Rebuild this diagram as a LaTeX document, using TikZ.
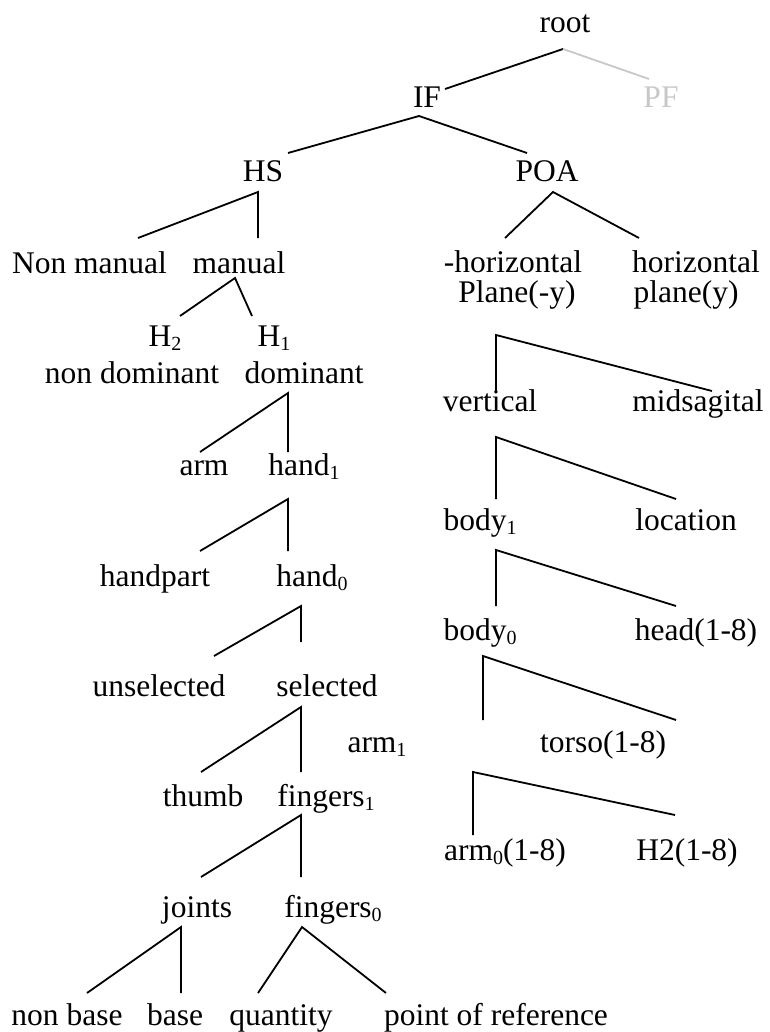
\documentclass[tikz,border=0pt]{standalone}
\usepackage{fontspec}
\setmainfont{Liberation Serif}
\newcommand\sbs[1]{\raisebox{-4pt}{\fontsize{20}{20}\selectfont #1}}
\definecolor{lightgrey}{RGB}{200,200,200}
\tikzset{
  lbl/.style={anchor=base,inner sep=0pt,outer sep=0pt,font=\fontsize{31.5}{36}\selectfont},
  faint/.style={lbl,text=lightgrey},
  edge/.style={line width=1.8pt,line join=miter,line cap=butt},
  faintedge/.style={edge,draw=lightgrey}
}
\begin{document}
\begin{tikzpicture}[x=1pt,y=-1pt]
\useasboundingbox[fill=white] (0,0) rectangle (769,1032);
% ---------- labels ----------
\node[lbl] (root) at (565,33) {root};
\node[lbl] (IF) at (427,108) {IF};
\node[faint] (PF) at (661,108) {PF};
\node[lbl] (HS) at (263,182) {HS};
\node[lbl] (POA) at (547,182) {POA};
\node[lbl] (nonmanual) at (89.5,273) {Non manual};
\node[lbl] (manual) at (239,273) {manual};
\node[lbl] (mhor) at (513,272) {-horizontal};
\node[lbl] (hor) at (696,272) {horizontal};
\node[lbl] (mplane) at (517,302) {Plane(-y)};
\node[lbl] (plane) at (686,302) {plane(y)};
\node[lbl] (H2) at (165,346) {H\sbs{2}};
\node[lbl] (H1) at (274,346) {H\sbs{1}};
\node[lbl] (nondom) at (132,383) {non dominant};
\node[lbl] (dom) at (304,383) {dominant};
\node[lbl] (vertical) at (490,411) {vertical};
\node[lbl] (midsag) at (698,411) {midsagital};
\node[lbl] (arm) at (204,475) {arm};
\node[lbl] (hand1) at (304,475) {hand\sbs{1}};
\node[lbl] (body1) at (480,530) {body\sbs{1}};
\node[lbl] (location) at (686,530) {location};
\node[lbl] (handpart) at (155,586) {handpart};
\node[lbl] (hand0) at (312,586) {hand\sbs{0}};
\node[lbl] (body0) at (480,640) {body\sbs{0}};
\node[lbl] (head) at (696,640) {head(1-8)};
\node[lbl] (unsel) at (159,696) {unselected};
\node[lbl] (sel) at (327,696) {selected};
\node[lbl] (arm1) at (377,752) {arm\sbs{1}};
\node[lbl] (torso) at (603,752) {torso(1-8)};
\node[lbl] (thumb) at (203,806) {thumb};
\node[lbl] (fingers1) at (326,806) {fingers\sbs{1}};
\node[lbl] (arm0) at (505,860) {arm\sbs{0}(1-8)};
\node[lbl] (H2b) at (687,860) {H2(1-8)};
\node[lbl] (joints) at (197,917) {joints};
\node[lbl] (fingers0) at (333,917) {fingers\sbs{0}};
\node[lbl] (nonbase) at (67,1025) {non base};
\node[lbl] (base) at (175,1025) {base};
\node[lbl] (quantity) at (281,1025) {quantity};
\node[lbl] (pref) at (496,1025) {point of reference};
% ---------- connector end points ----------
\coordinate (root-a) at (563,49);
\coordinate (IF-t) at (445,89);
\coordinate (PF-t) at (649,79);
\coordinate (IF-a) at (419,116);
\coordinate (HS-t) at (288,153);
\coordinate (POA-t) at (527,153);
\coordinate (HS-a) at (258,192);
\coordinate (nonmanual-t) at (138,238);
\coordinate (manual-t) at (258,238);
\coordinate (POA-a) at (553,192);
\coordinate (mhor-t) at (505,238);
\coordinate (hor-t) at (639,238);
\coordinate (manual-a) at (235,278);
\coordinate (H2-t) at (180,316);
\coordinate (H1-t) at (252,316);
\coordinate (dom-a) at (288,393);
\coordinate (arm-t) at (200,452);
\coordinate (hand1-t) at (288,452);
\coordinate (hand1-a) at (288,499);
\coordinate (handpart-t) at (200,551);
\coordinate (hand0-t) at (288,551);
\coordinate (hand0-a) at (301,606);
\coordinate (unsel-t) at (214,656);
\coordinate (sel-t) at (301,642);
\coordinate (sel-a) at (301,707);
\coordinate (thumb-t) at (201,772);
\coordinate (fingers1-t) at (301,772);
\coordinate (fingers1-a) at (301,815);
\coordinate (joints-t) at (201,877);
\coordinate (fingers0-t) at (301,877);
\coordinate (joints-a) at (181,927);
\coordinate (nonbase-t) at (87,993);
\coordinate (base-t) at (181,993);
\coordinate (fingers0-a) at (302,927);
\coordinate (quantity-t) at (258,993);
\coordinate (pref-t) at (386,993);
\coordinate (mplane-a) at (496,335);
\coordinate (vertical-t) at (496,391);
\coordinate (midsag-t) at (712,391);
\coordinate (vertical-a) at (496,437);
\coordinate (body1-t) at (496,499);
\coordinate (location-t) at (676,499);
\coordinate (body1-a) at (496,550);
\coordinate (body0-t) at (496,606);
\coordinate (head-t) at (676,606);
\coordinate (body0-a) at (483,656);
\coordinate (arm1-t) at (483,720);
\coordinate (torso-t) at (676,720);
\coordinate (arm1-a) at (473,772);
\coordinate (arm0-t) at (473,835);
\coordinate (H2b-t) at (675,815);
% ---------- connectors ----------
\draw[edge] (IF-t) -- (root-a);
\draw[faintedge] (root-a) -- (PF-t);
\draw[edge] (HS-t) -- (IF-a) -- (POA-t);
\draw[edge] (nonmanual-t) -- (HS-a) -- (manual-t);
\draw[edge] (mhor-t) -- (POA-a) -- (hor-t);
\draw[edge] (H2-t) -- (manual-a) -- (H1-t);
\draw[edge] (arm-t) -- (dom-a) -- (hand1-t);
\draw[edge] (handpart-t) -- (hand1-a) -- (hand0-t);
\draw[edge] (unsel-t) -- (hand0-a) -- (sel-t);
\draw[edge] (thumb-t) -- (sel-a) -- (fingers1-t);
\draw[edge] (joints-t) -- (fingers1-a) -- (fingers0-t);
\draw[edge] (nonbase-t) -- (joints-a) -- (base-t);
\draw[edge] (quantity-t) -- (fingers0-a) -- (pref-t);
\draw[edge] (vertical-t) -- (mplane-a) -- (midsag-t);
\draw[edge] (body1-t) -- (vertical-a) -- (location-t);
\draw[edge] (body0-t) -- (body1-a) -- (head-t);
\draw[edge] (arm1-t) -- (body0-a) -- (torso-t);
\draw[edge] (arm0-t) -- (arm1-a) -- (H2b-t);
\end{tikzpicture}
\end{document}
